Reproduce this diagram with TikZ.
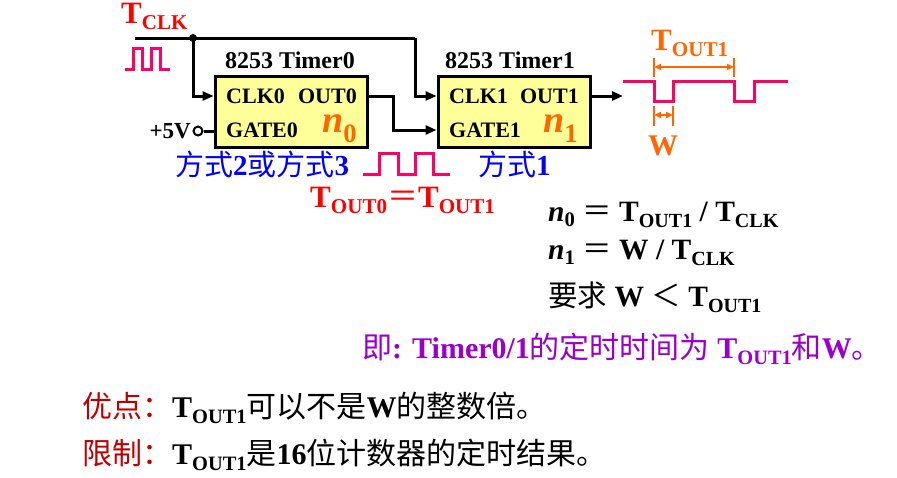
\documentclass[tikz,border=0pt]{standalone}
\usepackage{fontspec}
\usepackage{graphicx}
\setmainfont{Liberation Serif}
\newfontfamily\cjk{Noto Sans CJK SC}
\usetikzlibrary{arrows.meta,calc}
\definecolor{cred}{RGB}{255,0,0}
\definecolor{corange}{RGB}{255,102,0}
\definecolor{cpink}{RGB}{255,0,102}
\definecolor{cblue}{RGB}{0,0,255}
\definecolor{cpurple}{RGB}{153,0,204}
\definecolor{cdred}{RGB}{192,0,0}
\definecolor{cyellow}{RGB}{255,255,153}
\newcommand\TS[1]{T\raisebox{-0.22em}{\scalebox{0.68}{#1}}}
\newcommand\fs[1]{\fontsize{#1}{#1}\selectfont}
\newcommand\zh[1]{{\cjk\mdseries #1}}
\begin{document}
\begin{tikzpicture}[x=1pt,y=-1pt,
  txt/.style={inner sep=0pt},
  timerbox/.style={draw, line width=3pt, fill=cyellow, minimum width=152pt, minimum height=71pt, inner sep=0pt},
  wire/.style={line width=3pt},
  arr/.style={-{Triangle[length=11pt,width=9pt]}},
  pinkw/.style={draw=cpink, line width=3pt},
  dim/.style={draw=corange, line width=2pt},
  dimarr/.style={draw=corange, line width=2pt, {Triangle[length=7pt,width=6pt]}-{Triangle[length=7pt,width=6pt]}},
  boxtext/.style={inner sep=0pt, font=\bfseries\fs{22}},
  nlabel/.style={inner sep=0pt, text=corange, font=\bfseries\itshape\fs{38}}
]
\useasboundingbox (0,0) rectangle (897,477);
\fill[white] (0,0) rectangle (897,477);

% clock label and waveform
\node[txt, anchor=base west, text=cred, font=\bfseries\fs{31}] (tclk) at (121,23) {\TS{CLK}};
\draw[pinkw] (125,69) -- (133,69) -- (133,48) -- (142,48) -- (142,69) -- (151,69) -- (151,48) -- (160,48) -- (160,69) -- (170,69);

% timer boxes
\node[timerbox] (t0) at (291,111.5) {};
\node[timerbox] (t1) at (514,111.5) {};
\node[txt, anchor=base, font=\bfseries\fs{24}] (ttl0) at (290,68) {8253 Timer0};
\node[txt, anchor=base, font=\bfseries\fs{24}] (ttl1) at (510,68) {8253 Timer1};

\node[boxtext, anchor=west] (clk0) at (226,96) {CLK0};
\node[boxtext, anchor=east] (out0) at (357,96) {OUT0};
\node[boxtext, anchor=west] (gate0) at (226,130) {GATE0};
\node[nlabel, anchor=base west] (n0) at (322,132) {\smash{n\raisebox{-0.28em}{\upshape\scalebox{0.7}{0}}}};

\node[boxtext, anchor=west] (clk1) at (449,96) {CLK1};
\node[boxtext, anchor=east] (out1) at (579,96) {OUT1};
\node[boxtext, anchor=west] (gate1) at (449,130) {GATE1};
\node[nlabel, anchor=base west] (n1) at (543,132) {\smash{n\raisebox{-0.28em}{\upshape\scalebox{0.7}{1}}}};

% wires
\coordinate (clkin) at (135,38);
\coordinate (clkturn) at (415,38);
\node[circle, fill, inner sep=0pt, minimum size=8pt] (jd) at (193,38) {};
\draw[wire] (clkin) -- (clkturn);
\draw[wire, arr] (clkturn) |- (t1.west |- clk1);
\draw[wire, arr] (jd.center) |- (t0.west |- clk0);
\node[txt, anchor=east, font=\bfseries\fs{23}] (v5) at (191,131) {+5V};
\node[circle, draw, line width=2pt, fill=white, inner sep=0pt, minimum size=9pt] (vcc) at (198,131) {};
\draw[wire] (vcc) -- (t0.west |- vcc);
\coordinate (oturn) at (393,96);
\draw[wire, arr] (t0.east |- out0) -- (oturn) |- (t1.west |- gate1);
\coordinate (wstart) at (623,96);
\draw[wire, arr] (t1.east |- out1) -- (wstart);

% output waveform
\draw[pinkw] (623,81) -- (654,81) -- (654,101) -- (673,101) -- (673,81) -- (734,81) -- (734,101) -- (754,101) -- (754,81) -- (788,81);
\draw[dim] (654,58) -- (654,77);
\draw[dim] (734,58) -- (734,77);
\draw[dimarr] (654,67) -- (734,67);
\draw[dim] (654,106) -- (654,126);
\draw[dim] (673,106) -- (673,126);
\draw[dimarr] (654,115) -- (673,115);
\node[txt, anchor=base west, text=corange, font=\bfseries\fs{31}] (tout1) at (651,50) {\TS{OUT1}};
\node[txt, anchor=base, text=corange, font=\bfseries\fs{30}] (wl) at (663,155) {W};

% modes
\node[txt, anchor=base west, text=cblue, font=\bfseries\fs{29}] (mode0) at (175,175) {\zh{方式}2\zh{或方式}3};
\node[txt, anchor=base west, text=cblue, font=\bfseries\fs{29}] (mode1) at (478,175) {\zh{方式}1};
\draw[pinkw] (363,174) -- (379,174) -- (379,153) -- (398,153) -- (398,174) -- (415,174) -- (415,153) -- (433,153) -- (433,174) -- (450,174);
\node[txt, anchor=base west, text=cred, font=\bfseries\fs{31}] (teq) at (310,207) {\TS{OUT0}\zh{＝}\TS{OUT1}};

% formulas
\node[txt, anchor=base west, font=\bfseries\fs{29.5}] (f1) at (548,221) {\textit{n}\raisebox{-0.2em}{\scalebox{0.7}{0}} \zh{＝} \TS{OUT1} / \TS{CLK}};
\node[txt, anchor=base west, font=\bfseries\fs{29.5}] (f2) at (548,259) {\textit{n}\raisebox{-0.2em}{\scalebox{0.7}{1}} \zh{＝} W / \TS{CLK}};
\node[txt, anchor=base west, font=\bfseries\fs{29.5}] (f3) at (548,306) {\zh{要求} W \zh{＜} \TS{OUT1}};

\node[txt, anchor=base west, text=cpurple, font=\bfseries\fs{30}] (note) at (362,358) {\zh{即}: Timer0/1\zh{的定时时间为} \TS{OUT1}\zh{和}W\zh{。}};

\node[txt, anchor=base west, font=\bfseries\fs{30}] (adv) at (82,417) {\textcolor{cdred}{\zh{优点：}}\TS{OUT1}\zh{可以不是}W\zh{的整数倍。}};
\node[txt, anchor=base west, font=\bfseries\fs{30}] (lim) at (82,464) {\textcolor{cdred}{\zh{限制：}}\TS{OUT1}\zh{是}16\zh{位计数器的定时结果。}};
\end{tikzpicture}
\end{document}
